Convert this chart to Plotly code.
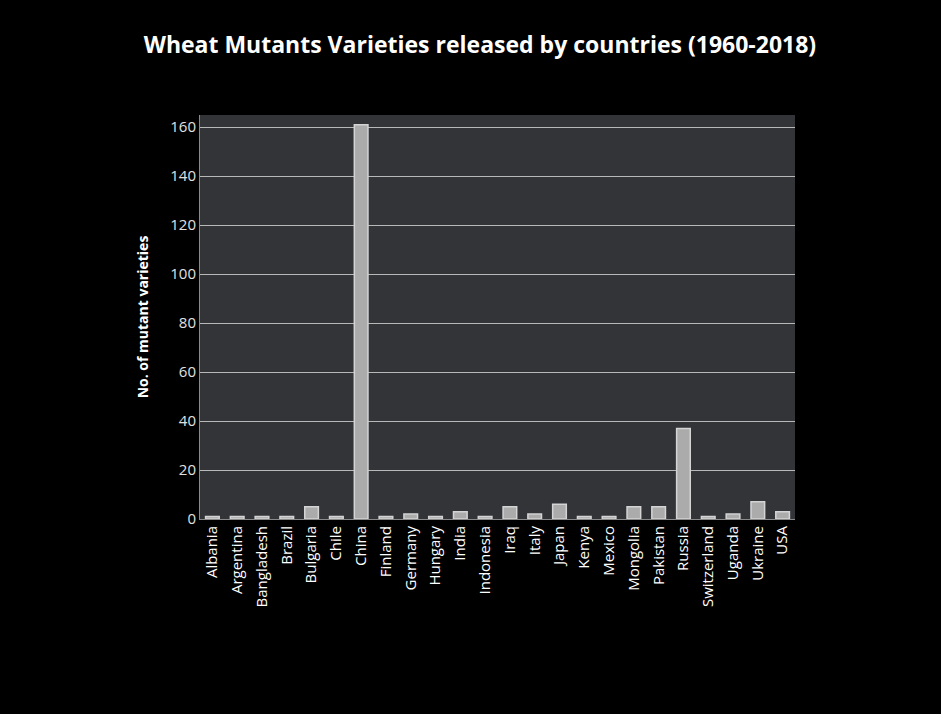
import plotly.graph_objects as go

countries = ["Albania", "Argentina", "Bangladesh", "Brazil", "Bulgaria", "Chile", "China",
             "Finland", "Germany", "Hungary", "India", "Indonesia", "Iraq", "Italy", "Japan",
             "Kenya", "Mexico", "Mongolia", "Pakistan", "Russia", "Switzerland", "Uganda",
             "Ukraine", "USA"]
varieties = [1, 1, 1, 1, 5, 1, 161, 1, 2, 1, 3, 1, 5, 2, 6, 1, 1, 5, 5, 37, 1, 2, 7, 3]
y_ticks = [0, 20, 40, 60, 80, 100, 120, 140, 160]

fig = go.Figure()
fig.add_trace(go.Bar(
    x=countries, y=varieties,
    marker=dict(color="#ababab", line=dict(color="#d4d4d4", width=1.5)),
    width=0.55,
))

fig.update_layout(
    width=941, height=714,
    paper_bgcolor="#000000",
    plot_bgcolor="#323438",
    margin=dict(l=200, r=146, t=115, b=195),
    title=dict(text="<b>Wheat Mutants Varieties released by countries (1960-2018)</b>",
               x=0.51, xanchor="center", y=0.937, yanchor="middle",
               font=dict(family="Open Sans, DejaVu Sans, sans-serif", size=23, color="#ffffff")),
    showlegend=False,
    font=dict(family="Open Sans, DejaVu Sans, sans-serif", color="#e8e8e8"),
)
fig.update_xaxes(
    tickangle=-90, tickfont=dict(size=15, color="#ffffff"),
    showgrid=False, showline=True, linecolor="#8a8a8a", linewidth=1,
    ticks="", categoryorder="array", categoryarray=countries,
)
fig.update_yaxes(
    range=[0, 165], tickvals=y_ticks, ticktext=[str(v) for v in y_ticks],
    tickfont=dict(size=15, color="#e0e0e0"),
    gridcolor="#b8b8b8", gridwidth=1, zeroline=False,
    showline=True, linecolor="#8a8a8a", linewidth=1, ticks="", ticklen=0,
    title=dict(text="<b>No. of mutant varieties</b>", font=dict(size=14, color="#ffffff"), standoff=18),
)

fig.write_html("out.html")
